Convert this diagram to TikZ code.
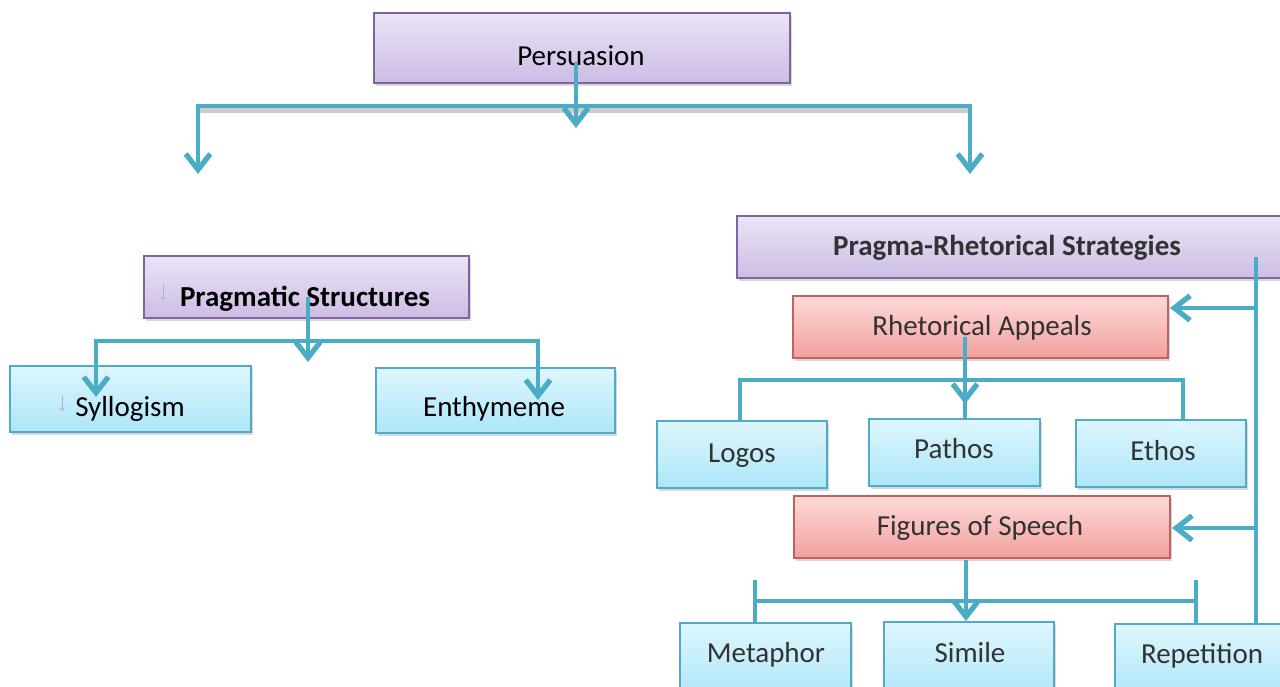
\documentclass[tikz,border=0pt]{standalone}
\usepackage{fontspec}
\setmainfont{Carlito}
\usetikzlibrary{arrows.meta,shadows,fit}
\definecolor{connC}{RGB}{75,172,198}
\definecolor{purpB}{RGB}{128,100,162}
\definecolor{purpT}{RGB}{236,228,246}
\definecolor{purpD}{RGB}{204,188,228}
\definecolor{blueB}{RGB}{80,170,200}
\definecolor{blueT}{RGB}{222,246,253}
\definecolor{blueD}{RGB}{172,230,247}
\definecolor{redB}{RGB}{196,96,94}
\definecolor{redT}{RGB}{253,218,216}
\definecolor{redD}{RGB}{241,160,158}
\definecolor{darktxt}{RGB}{50,50,50}
\begin{document}
\begin{tikzpicture}[x=0.02cm,y=-0.02cm,
  box/.style={draw, line width=1.1pt, inner sep=0pt,
    drop shadow={shadow xshift=1.2pt, shadow yshift=-1.6pt, opacity=0.3}},
  pbox/.style={box, draw=purpB, top color=purpT, bottom color=purpD},
  bbox/.style={box, draw=blueB, top color=blueT, bottom color=blueD},
  rbox/.style={box, draw=redB, top color=redT, bottom color=redD},
  txt/.style={anchor=base, inner sep=0pt, font=\fontsize{16.5}{20}\selectfont},
  rtxt/.style={txt, text=darktxt},
  conn/.style={draw=connC, line width=2.8pt},
  arr/.style={conn, -{Straight Barb[length=9pt, width=14pt, line width=3pt]}},
  tiny/.style={draw=gray!60, line width=0.4pt, -{Straight Barb[length=1.5pt, width=2.5pt]}}
]
\clip (0,0) rectangle (1280,686);
\fill[white] (0,0) rectangle (1280,686);

% ---------- boxes ----------
\node[pbox, fit={(374,13) (790,83)}] (pers) {};
\node[pbox, fit={(144,256) (469,318)}] (prag) {};
\node[bbox, fit={(10,366) (251,432)}] (syl) {};
\node[bbox, fit={(376,368) (615,433)}] (enth) {};

\node[pbox, fit={(737,216) (1290,278)}] (prs) {};
\node[rbox, fit={(793,296) (1168,358)}] (ra) {};
\node[bbox, fit={(657,421) (827,488)}] (logos) {};
\node[bbox, fit={(869,419) (1040,486)}] (pathos) {};
\node[bbox, fit={(1076,420) (1246,487)}] (ethos) {};
\node[rbox, fit={(794,496) (1170,558)}] (fos) {};
\node[bbox, fit={(680,623) (851,700)}] (meta) {};
\node[bbox, fit={(884,622) (1054,700)}] (simile) {};
\node[bbox, fit={(1115,624) (1290,700)}] (rep) {};

% ---------- texts ----------
\node[txt] (perst) at (581,66) {Persuasion};
\node[txt] (pragt) at (305,306) {\bfseries Pragmatic Structures};
\node[txt] (sylt) at (130,416) {Syllogism};
\node[txt] (entht) at (494,416) {Enthymeme};
\node[rtxt] (prst) at (1007,255) {\bfseries Pragma-Rhetorical Strategies};
\node[rtxt] (rat) at (982,335) {Rhetorical Appeals};
\node[rtxt] (logost) at (742,462) {Logos};
\node[rtxt] (pathost) at (954,458) {Pathos};
\node[rtxt] (ethost) at (1163,460) {Ethos};
\node[rtxt] (fost) at (980,535) {Figures of Speech};
\node[rtxt] (metat) at (766,662) {Metaphor};
\node[rtxt] (similet) at (970,662) {Simile};
\node[rtxt] (rept) at (1202,663) {Repetition};

% small gray marks
\coordinate (g1a) at (163,284); \coordinate (g1b) at (163,300);
\coordinate (g2a) at (62,396);  \coordinate (g2b) at (62,411);
\draw[tiny] (g1a) -- (g1b);
\draw[tiny] (g2a) -- (g2b);

% ---------- connectors: Persuasion ----------
\coordinate (p0) at (576,62);
\coordinate (p1) at (576,106);
\coordinate (pc) at (576,128);
\coordinate (pl) at (198,174);
\coordinate (pr) at (970,174);
\draw[conn, draw=black!20, line width=3pt] (198,110) -- (970,110);
\draw[arr] (p1) -| (pl);
\draw[arr] (p1) -| (pr);
\draw[arr] (p0) -- (pc);

% ---------- connectors: Pragmatic Structures ----------
\coordinate (q0) at (308,297);
\coordinate (q1) at (308,341);
\coordinate (qc) at (308,362);
\coordinate (ql) at (96,397);
\coordinate (qr) at (538,400);
\draw[arr] (q1) -| (ql);
\draw[arr] (q1) -| (qr);
\draw[arr] (q0) -- (qc);

% ---------- connectors: right side ----------
\coordinate (v0) at (1256,257);
\coordinate (v1) at (1256,624);
\coordinate (va) at (1256,308);
\coordinate (vb) at (1256,528);
\coordinate (ta) at (1170,308);
\coordinate (tb) at (1172,528);
\draw[conn] (v0) -- (v1);
\draw[arr] (va) -- (ta);
\draw[arr] (vb) -- (tb);

% Rhetorical Appeals
\coordinate (r0) at (965,337);
\coordinate (r1) at (965,420);
\coordinate (rt) at (965,404);
\coordinate (rl) at (740,421);
\coordinate (rr) at (1183,421);
\coordinate (rh) at (1183,380);
\draw[conn] (r0) -- (r1);
\draw[conn] (rl) |- (rh) -- (rr);
\draw[arr] (r0) -- (rt);

% Figures of Speech
\coordinate (f0) at (966,560);
\coordinate (ft) at (966,621);
\coordinate (fl) at (755,601);
\coordinate (fr) at (1196,601);
\draw[conn] (fl) -- (fr);
\draw[conn] (755,580) -- (755,623);
\draw[conn] (1196,580) -- (1196,623);
\draw[arr] (f0) -- (ft);
\end{tikzpicture}
\end{document}
